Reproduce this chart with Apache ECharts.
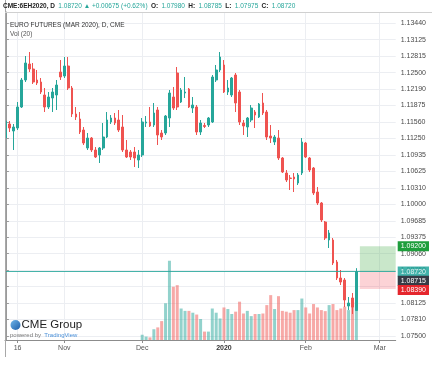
<!DOCTYPE html>
<html><head><meta charset="utf-8">
<script src="https://cdn.jsdelivr.net/npm/echarts@6/dist/echarts.min.js"></script>
<style>html,body{margin:0;padding:0;background:#fff}#c{width:432px;height:373px}</style>
</head><body><div id="c"></div>
<script>
// trading days shown on the axis
const octDays = [11,14,15,16,17,18,21,22,23,24,25,28,29,30,31];
const novDays = [1,4,5,6,7,8,11,12,13,14,15,18,19,20,21,22,25,26,27,29];
const decDays = [2,3,4,5,6,9,10,11,12,13,16,17,18,19,20,23,24,26,27,30,31];
const janDays = [2,3,6,7,8,9,10,13,14,15,16,17,21,22,23,24,27,28,29,30,31];
const febDays = [3,4,5,6,7,10,11,12,13,14,18,19,20,21,24,25,26,27,28];
const marDays = [2,3,4,5];
const dates = [];
[['2019-10',octDays],['2019-11',novDays],['2019-12',decDays],['2020-01',janDays],['2020-02',febDays],['2020-03',marDays]]
  .forEach(([m,ds])=>ds.forEach(d=>dates.push(m+'-'+String(d).padStart(2,'0'))));

const xTickDates = ['2019-10-16','2019-11-01','2019-12-02','2020-01-02','2020-02-03','2020-03-02'];
const xTickTexts = ['16','Nov','Dec','2020','Feb','Mar'];

const yTickLabels = ['1.07500','1.07810','1.08125','1.08435','1.08750','1.09060','1.09375','1.09685','1.10000','1.10310',
  '1.10625','1.10935','1.11250','1.11560','1.11875','1.12190','1.12500','1.12815','1.13125','1.13440'];

const opens = [1.11258,1.11524,1.11391,1.11448,1.11847,1.1236,1.12664,1.12569,1.1236,1.12322,
 1.12075,1.11847,1.12018,1.12075,1.12512,1.12436,1.12626,1.12208,1.11714,1.11619,
 1.1141,1.11068,1.11258,1.1103,1.10935,1.11068,1.11277,1.11562,1.11638,1.116,
 1.11467,1.1103,1.10992,1.10992,1.1084,1.10935,1.11543,1.11562,1.11505,1.1179,
 1.11353,1.11353,1.11638,1.12037,1.12493,1.11942,1.12113,1.12189,1.11828,1.11847,
 1.11372,1.11496,1.11505,1.11562,1.1236,1.1255,1.12645,1.12132,1.12075,1.12455,
 1.12132,1.11543,1.11467,1.116,1.11752,1.11657,1.11923,1.11752,1.11296,1.11182,
 1.11258,1.10878,1.10593,1.10498,1.10517,1.10403,1.10593,1.11163,1.10878,1.10688,
 1.10232,1.10023,1.09662,1.0932,1.0932,1.08902,1.08598,1.0856,1.08066,1.08218,
 1.0798];
const closes = [1.11581,1.11448,1.11467,1.11847,1.1236,1.12683,1.12569,1.12322,1.12303,1.12132,
 1.11847,1.12037,1.12132,1.12265,1.12417,1.12626,1.12208,1.11714,1.11657,1.11372,
 1.11163,1.11258,1.1103,1.10897,1.11068,1.11277,1.116,1.11638,1.11543,1.1141,
 1.1103,1.10897,1.10897,1.10878,1.10935,1.11562,1.11562,1.11486,1.11733,1.11315,
 1.11277,1.11676,1.12113,1.11828,1.11847,1.1217,1.12132,1.11847,1.11885,1.11372,
 1.11543,1.11477,1.11638,1.12417,1.1255,1.12797,1.12132,1.12208,1.12398,1.11923,
 1.11562,1.11486,1.11638,1.11828,1.11695,1.11904,1.11733,1.11277,1.11258,1.11277,
 1.10878,1.10612,1.1046,1.10489,1.10479,1.10555,1.11182,1.10897,1.1065,1.10213,
 1.10023,1.097,1.09358,1.09453,1.08883,1.08598,1.08522,1.0818,1.08123,1.08045,
 1.0872];
const lows = [1.1122,1.11372,1.1103,1.1141,1.11828,1.12322,1.12512,1.12284,1.12265,1.12094,
 1.11752,1.11809,1.11752,1.1179,1.1236,1.12398,1.1217,1.11657,1.116,1.11334,
 1.11125,1.1103,1.10992,1.10878,1.10783,1.1103,1.11258,1.11524,1.11505,1.11372,
 1.10992,1.10878,1.1084,1.10707,1.10688,1.10897,1.11467,1.11467,1.11467,1.11125,
 1.1122,1.11315,1.11467,1.1179,1.1179,1.11923,1.12018,1.11828,1.11733,1.11315,
 1.11315,1.11448,1.11467,1.11543,1.12322,1.12512,1.12113,1.12075,1.12037,1.11752,
 1.11505,1.11315,1.11277,1.11562,1.11448,1.11638,1.11695,1.1122,1.11163,1.11125,
 1.1084,1.10593,1.10422,1.1027,1.10232,1.10365,1.10555,1.10878,1.10612,1.10175,
 1.09985,1.09662,1.0932,1.09168,1.08845,1.0856,1.08465,1.08047,1.0799,1.07914,
 1.07975];
const highs = [1.11676,1.11581,1.11524,1.11942,1.12398,1.12816,1.12892,1.12683,1.1255,1.12398,
 1.12208,1.12132,1.12208,1.1236,1.1274,1.12797,1.12797,1.12246,1.11847,1.11752,
 1.11467,1.11353,1.11277,1.11087,1.11087,1.11543,1.11752,1.11695,1.11733,1.1179,
 1.11695,1.1122,1.1103,1.11087,1.1103,1.11638,1.11676,1.11847,1.11923,1.11847,
 1.1141,1.11695,1.1217,1.12227,1.12607,1.12208,1.12417,1.12208,1.12037,1.11885,
 1.116,1.11543,1.11657,1.12455,1.12645,1.12892,1.1274,1.1236,1.12417,1.12493,
 1.1217,1.116,1.11657,1.11885,1.1179,1.11923,1.12113,1.1179,1.11505,1.11315,
 1.1141,1.10897,1.1065,1.10555,1.10593,1.10593,1.11258,1.11182,1.10897,1.10707,
 1.10327,1.10042,1.09681,1.0951,1.09358,1.0894,1.0875,1.08598,1.08237,1.08313,
 1.08785];
// volume, thousands of contracts (March contract only trades actively after the December roll)
const volumes = [0,0,0,0,0,0,0,0,0,0, 0,0,0,0,0,0,0,0,0,0, 0,0,0,0,0,0,0,0,0,0, 0,0,0,0,0,
 20,13,10,41,48,72,140,302,203,209,
 120,111,111,104,97,80,32,32,120,104,
 82,124,118,99,108,146,101,111,91,99,
 99,101,133,171,118,167,111,108,104,114,
 114,158,124,101,137,124,114,110,133,137,
 114,120,127,114,158,145];

// price tags on the right scale
const tagPrices = [1.092, 1.0872, 1.08715, 1.0839];
const tagTexts = ['1.09200','1.08720','1.08715','1.08390'];
const tagColors = ['#1e9e3c','#22a69c','#363a45','#e5262d'];
const positionTarget = 1.092, positionEntry = 1.0872, positionStop = 1.0839;

const UP = '#26a69a', DOWN = '#ef5350';
const yTickValues = yTickLabels.map(Number);
const xTickIdx = xTickDates.map(d => dates.indexOf(d));
const lastIdx = closes.length - 1;
const FONT = 'Liberation Sans';

const chart = echarts.init(document.getElementById('c'), null, {renderer:'canvas'});

const candleData = opens.map((o,i)=>[i,o,closes[i],lows[i],highs[i]]);
const volData = volumes.map((v,i)=>({value:[i,v], itemStyle:{color: closes[i]>=opens[i] ? 'rgba(38,166,154,0.5)' : 'rgba(239,83,80,0.5)'}}));

const tagLines = tagPrices.map((p,k)=>({
  yAxis: p,
  lineStyle: k===1 ? {color:'#26a69a', width:1, type:'solid', opacity:0.85} : {color:'rgba(0,0,0,0)', width:1},
  label: {
    show:true, position:'end', distance:2, formatter: tagTexts[k],
    color:'#fff', backgroundColor: tagColors[k], fontSize:7, fontFamily:FONT,
    padding:[2,3,1,3], offset: k===2 ? [0,9] : (k===3 ? [0,1] : [0,0])
  }
}));

chart.setOption({
  animation:false,
  grid:{left:5, right:36.3, top:12, bottom:33, containLabel:false},
  xAxis:{
    type:'value', min:-0.23, max:100.1,
    axisLine:{show:true, onZero:false, lineStyle:{color:'#8c8c8c'}},
    axisTick:{show:true, customValues:xTickIdx, length:3, lineStyle:{color:'#8c8c8c'}},
    axisLabel:{customValues:xTickIdx, margin:5, fontSize:7, fontFamily:FONT, color:'#555',
      formatter:v=>{const t=xTickTexts[xTickIdx.indexOf(v)]; return t==='2020' ? '{b|2020}' : t;},
      rich:{b:{fontWeight:'bold', fontSize:7, color:'#333', fontFamily:FONT}}},
    splitLine:{show:true, lineStyle:{color:'#eceef2', width:1}}
  },
  yAxis:[{
    type:'value', position:'right', min:1.0742, max:1.13652,
    axisLine:{show:true, lineStyle:{color:'#9a9a9a'}},
    axisTick:{show:true, customValues:yTickValues, length:3, lineStyle:{color:'#9a9a9a'}},
    axisLabel:{customValues:yTickValues, margin:5, fontSize:7, fontFamily:FONT, color:'#4a4a4a',
      formatter:v=>yTickLabels[yTickValues.indexOf(v)]},
    splitLine:{show:true, lineStyle:{color:'#eceef2', width:1}}
  },{
    type:'value', show:false, min:0, max:1250, position:'right',
    splitLine:{show:false}, axisLine:{show:false}, axisTick:{show:false}, axisLabel:{show:false}
  }],
  series:[{
    type:'bar', name:'Vol', xAxisIndex:0, yAxisIndex:1, data:volData, barWidth:3, z:1, silent:true
  },{
    type:'candlestick', name:'6EH2020', xAxisIndex:0, yAxisIndex:0, data:candleData, barWidth:2.2, z:3,
    itemStyle:{color:UP, color0:DOWN, borderColor:UP, borderColor0:DOWN, borderWidth:1},
    markLine:{silent:true, precision:6, symbol:['none','none'], z:5, data:tagLines},
    markArea:{silent:true, z:2, data:[
      [{xAxis:lastIdx+0.9, yAxis:positionTarget, itemStyle:{color:'rgba(76,175,80,0.3)'}},{xAxis:100.1, yAxis:positionEntry}],
      [{xAxis:lastIdx+0.9, yAxis:positionEntry, itemStyle:{color:'rgba(242,54,69,0.22)'}},{xAxis:100.1, yAxis:positionStop}]
    ]}
  }],
  graphic:[
    {type:'line', z:10, shape:{x1:5.5,y1:0,x2:5.5,y2:357}, style:{stroke:'#a8a8a8', lineWidth:1}},
    {type:'line', z:10, shape:{x1:5,y1:12.5,x2:432,y2:12.5}, style:{stroke:'#d0d0d0', lineWidth:1}},
    {type:'text', x:3, y:6, z:10, style:{
      text:'{b|CME:6EH2020, D} {v|1.08720 ▲ +0.00675 (+0.62%)} {b|O:} {v|1.07980} {b|H:} {v|1.08785} {b|L:} {v|1.07975} {b|C:} {v|1.08720}',
      verticalAlign:'middle',
      rich:{b:{fontWeight:'bold', fontSize:6.5, fill:'#222', fontFamily:FONT},
            v:{fontSize:6.5, fill:'#26a69a', fontFamily:FONT}}}},
    {type:'text', x:10, y:25.5, z:10, style:{text:'EURO FUTURES (MAR 2020), D, CME', fontSize:6.5, fontFamily:FONT, fill:'#333', verticalAlign:'middle'}},
    {type:'text', x:10, y:34.5, z:10, style:{text:'Vol (20)', fontSize:6.5, fontFamily:FONT, fill:'#555', verticalAlign:'middle'}},
    {type:'circle', z:10, shape:{cx:15.5, cy:325, r:5}, style:{fill:new echarts.graphic.LinearGradient(0,0,1,1,[{offset:0,color:'#6fb6ea'},{offset:1,color:'#1d5ea8'}])}},
    {type:'text', x:21.5, y:325, z:10, style:{text:'CME Group', fontSize:11.5, fontFamily:FONT, fill:'#222', verticalAlign:'middle'}},
    {type:'text', x:10, y:335.5, z:10, style:{text:'{g|powered by} {t|TradingView}', verticalAlign:'middle',
      rich:{g:{fontSize:6, fill:'#777', fontFamily:FONT}, t:{fontSize:6, fill:'#4a90d9', fontFamily:FONT}}}}
  ]
});
</script></body></html>
